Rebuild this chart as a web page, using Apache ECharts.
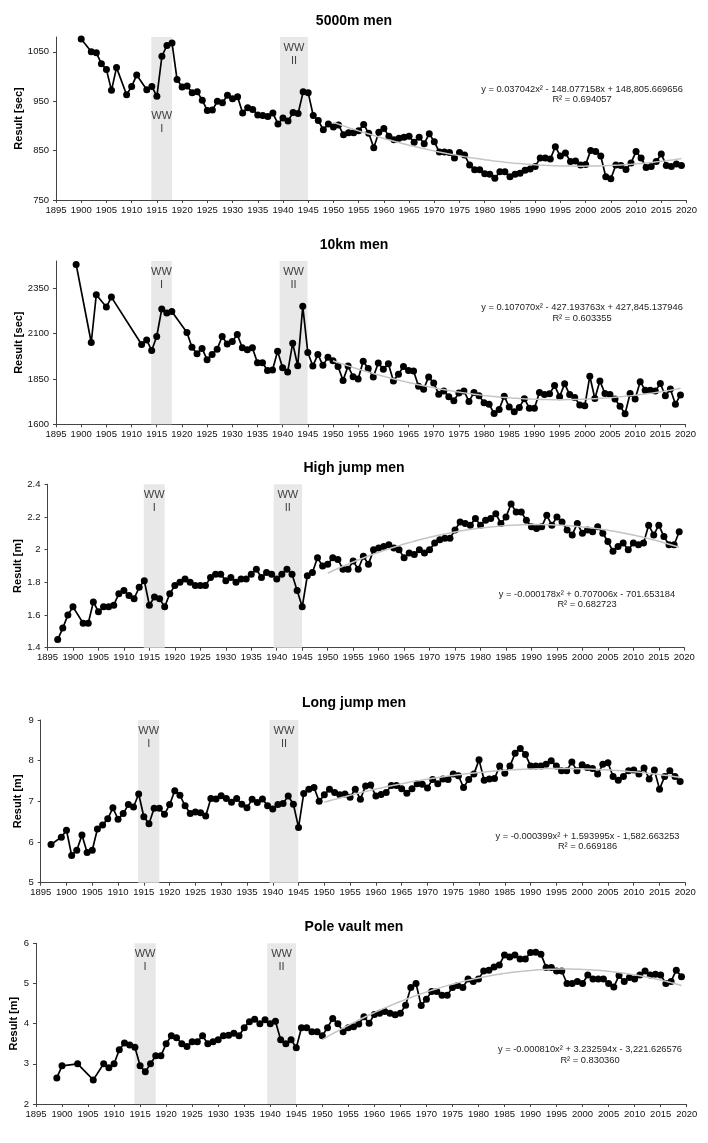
<!DOCTYPE html>
<html><head><meta charset="utf-8">
<script src="https://cdn.jsdelivr.net/npm/echarts@6.0.0/dist/echarts.min.js"></script>
<style>html,body{margin:0;padding:0;background:#fff}#c{width:708px;height:1143px}</style>
</head><body><div id="c"></div>
<script>
// ---- 5000m men [sec]
const years5000 = [1900,1902,1903,1904,1905,1906,1907,1909,1910,1911,1913,1914,1915,1916,1917,1918,1919,1920,1921,1922,1923,1924,1925,1926,1927,1928,1929,1930,1931,1932,1933,1934,1935,1936,1937,1938,1939,1940,1941,1942,1943,1944,1945,1946,1947,1948,1949,1950,1951,1952,1953,1954,1955,1956,1957,1958,1959,1960,1961,1962,1963,1964,1965,1966,1967,1968,1969,1970,1971,1972,1973,1974,1975,1976,1977,1978,1979,1980,1981,1982,1983,1984,1985,1986,1987,1988,1989,1990,1991,1992,1993,1994,1995,1996,1997,1998,1999,2000,2001,2002,2003,2004,2005,2006,2007,2008,2009,2010,2011,2012,2013,2014,2015,2016,2017,2018,2019];
const vals5000 = [1076,1050,1048,1026,1014,972,1018,963,980,1003,973,980,960,1041,1063,1068,994,979,981,967,969,952,931,932,950,947,962,955,959,926,937,933,922,921,919,926,904,916,910,927,925,969,967,921,911,892,904,898,902,882,886,886,890,903,885,856,887,895,879,872,875,877,879,867,877,864,884,868,847,847,846,835,846,841,821,811,811,803,802,794,807,807,797,802,804,810,813,818,835,835,833,858,839,845,828,829,821,822,850,848,839,797,793,821,820,812,825,848,835,816,818,828,843,820,818,823,820];

// ---- 10km men [sec]
const years10k = [1899,1902,1903,1905,1906,1912,1913,1914,1915,1916,1917,1918,1921,1922,1923,1924,1925,1926,1927,1928,1929,1930,1931,1932,1933,1934,1935,1936,1937,1938,1939,1940,1941,1942,1943,1944,1945,1946,1947,1948,1949,1950,1951,1952,1953,1954,1955,1956,1957,1958,1959,1960,1961,1962,1963,1964,1965,1966,1967,1968,1969,1970,1971,1972,1973,1974,1975,1976,1977,1978,1979,1980,1981,1982,1983,1984,1985,1986,1987,1988,1989,1990,1991,1992,1993,1994,1995,1996,1997,1998,1999,2000,2001,2002,2003,2004,2005,2006,2007,2008,2009,2010,2011,2012,2013,2014,2015,2016,2017,2018,2019];
const vals10k = [2481,2051,2314,2246,2301,2040,2065,2007,2084,2235,2213,2222,2106,2025,1989,2018,1956,1985,2014,2084,2042,2056,2095,2022,2011,2022,1939,1939,1897,1899,2003,1912,1888,2047,1923,2250,1996,1921,1985,1925,1969,1950,1919,1842,1921,1862,1850,1948,1907,1861,1938,1903,1934,1839,1876,1919,1896,1894,1810,1793,1861,1828,1766,1784,1752,1730,1773,1784,1726,1775,1757,1719,1710,1660,1682,1755,1695,1669,1693,1741,1689,1688,1775,1764,1768,1814,1752,1823,1764,1748,1706,1702,1865,1742,1839,1770,1764,1739,1700,1658,1770,1739,1835,1788,1788,1783,1825,1757,1795,1711,1762];

// ---- High jump men [m]
const yearsHJ = [1897,1898,1899,1900,1902,1903,1904,1905,1906,1907,1908,1909,1910,1911,1912,1913,1914,1915,1916,1917,1918,1919,1920,1921,1922,1923,1924,1925,1926,1927,1928,1929,1930,1931,1932,1933,1934,1935,1936,1937,1938,1939,1940,1941,1942,1943,1944,1945,1946,1947,1948,1949,1950,1951,1952,1953,1954,1955,1956,1957,1958,1959,1960,1961,1962,1963,1964,1965,1966,1967,1968,1969,1970,1971,1972,1973,1974,1975,1976,1977,1978,1979,1980,1981,1982,1983,1984,1985,1986,1987,1988,1989,1990,1991,1992,1993,1994,1995,1996,1997,1998,1999,2000,2001,2002,2003,2004,2005,2006,2007,2008,2009,2010,2011,2012,2013,2014,2015,2016,2017,2018,2019];
const valsHJ = [1.45,1.52,1.60,1.65,1.55,1.55,1.68,1.62,1.65,1.65,1.66,1.73,1.75,1.72,1.70,1.77,1.81,1.66,1.71,1.70,1.65,1.73,1.78,1.80,1.82,1.80,1.78,1.78,1.78,1.83,1.85,1.85,1.81,1.83,1.80,1.82,1.82,1.85,1.88,1.83,1.86,1.85,1.82,1.85,1.88,1.85,1.75,1.65,1.84,1.86,1.95,1.90,1.91,1.95,1.94,1.88,1.88,1.93,1.88,1.96,1.91,2.00,2.01,2.02,2.03,2.01,2.00,1.95,1.98,1.97,2.00,1.98,2.00,2.04,2.06,2.07,2.07,2.12,2.17,2.16,2.15,2.19,2.15,2.18,2.19,2.22,2.16,2.20,2.28,2.23,2.23,2.18,2.14,2.13,2.14,2.21,2.15,2.20,2.17,2.12,2.09,2.16,2.10,2.12,2.11,2.14,2.10,2.05,1.99,2.02,2.04,2.00,2.04,2.03,2.04,2.15,2.09,2.15,2.08,2.03,2.03,2.11];

// ---- Long jump men [m]
const yearsLJ = [1897,1899,1900,1901,1902,1903,1904,1905,1906,1907,1908,1909,1910,1911,1912,1913,1914,1915,1916,1917,1918,1919,1920,1921,1922,1923,1924,1925,1926,1927,1928,1929,1930,1931,1932,1933,1934,1935,1936,1937,1938,1939,1940,1941,1942,1943,1944,1945,1946,1947,1948,1949,1950,1951,1952,1953,1954,1955,1956,1957,1958,1959,1960,1961,1962,1963,1964,1965,1966,1967,1968,1969,1970,1971,1972,1973,1974,1975,1976,1977,1978,1979,1980,1981,1982,1983,1984,1985,1986,1987,1988,1989,1990,1991,1992,1993,1994,1995,1996,1997,1998,1999,2000,2001,2002,2003,2004,2005,2006,2007,2008,2009,2010,2011,2012,2013,2014,2015,2016,2017,2018,2019];
const valsLJ = [5.94,6.12,6.29,5.67,5.80,6.17,5.74,5.80,6.32,6.42,6.57,6.84,6.56,6.70,6.92,6.86,7.18,6.62,6.45,6.83,6.83,6.68,6.92,7.26,7.15,6.89,6.70,6.74,6.72,6.64,7.07,7.06,7.14,7.07,6.98,7.07,6.93,6.84,7.05,6.97,7.06,6.89,6.81,6.92,6.95,7.13,6.93,6.36,7.19,7.30,7.34,7.00,7.16,7.30,7.22,7.16,7.18,7.10,7.30,7.05,7.38,7.40,7.13,7.17,7.22,7.39,7.39,7.31,7.20,7.31,7.43,7.42,7.33,7.54,7.43,7.55,7.54,7.67,7.63,7.34,7.54,7.67,8.02,7.52,7.55,7.56,7.87,7.69,7.87,8.18,8.30,8.15,7.87,7.87,7.87,7.91,8.00,7.87,7.75,7.75,7.97,7.75,7.90,7.83,7.81,7.67,7.91,7.95,7.61,7.52,7.61,7.75,7.77,7.67,7.82,7.55,7.77,7.30,7.61,7.75,7.61,7.49];

// ---- Pole vault men [m]
const yearsPV = [1899,1900,1903,1906,1908,1909,1910,1911,1912,1913,1914,1915,1916,1917,1918,1919,1920,1921,1922,1923,1924,1925,1926,1927,1928,1929,1930,1931,1932,1933,1934,1935,1936,1937,1938,1939,1940,1941,1942,1943,1944,1945,1946,1947,1948,1949,1950,1951,1952,1953,1954,1955,1956,1957,1958,1959,1960,1961,1962,1963,1964,1965,1966,1967,1968,1969,1970,1971,1972,1973,1974,1975,1976,1977,1978,1979,1980,1981,1982,1983,1984,1985,1986,1987,1988,1989,1990,1991,1992,1993,1994,1995,1996,1997,1998,1999,2000,2001,2002,2003,2004,2005,2006,2007,2008,2009,2010,2011,2012,2013,2014,2015,2016,2017,2018,2019];
const valsPV = [2.65,2.95,3.00,2.60,3.00,2.90,3.00,3.35,3.52,3.47,3.41,2.95,2.80,3.00,3.20,3.20,3.50,3.70,3.65,3.50,3.43,3.55,3.55,3.70,3.50,3.55,3.60,3.70,3.71,3.76,3.70,3.90,4.05,4.11,4.00,4.10,4.00,4.06,3.60,3.50,3.60,3.40,3.90,3.90,3.80,3.80,3.70,3.90,4.13,4.00,3.80,3.90,3.92,3.99,4.17,4.01,4.23,4.26,4.30,4.26,4.22,4.26,4.46,4.90,5.00,4.45,4.61,4.80,4.80,4.71,4.71,4.90,4.95,4.90,5.11,5.05,5.11,5.31,5.33,5.41,5.46,5.71,5.66,5.71,5.61,5.61,5.77,5.78,5.73,5.40,5.40,5.31,5.31,5.00,5.00,5.05,5.00,5.21,5.11,5.11,5.11,5.00,4.91,5.20,5.05,5.15,5.11,5.21,5.31,5.21,5.23,5.21,5.00,5.05,5.33,5.17];

// ---- shared
const titles = ['5000m men','10km men','High jump men','Long jump men','Pole vault men'];
const yNames = ['Result [sec]','Result [sec]','Result [m]','Result [m]','Result [m]'];
const equations = [
  'y = 0.037042x\u00b2 - 148.077158x + 148,805.669656\nR\u00b2 = 0.694057',
  'y = 0.107070x\u00b2 - 427.193763x + 427,845.137946\nR\u00b2 = 0.603355',
  'y = -0.000178x\u00b2 + 0.707006x - 701.653184\nR\u00b2 = 0.682723',
  'y = -0.000399x\u00b2 + 1.593995x - 1,582.663253\nR\u00b2 = 0.669186',
  'y = -0.000810x\u00b2 + 3.232594x - 3,221.626576\nR\u00b2 = 0.830360'
];
const xTickRange = [1895, 2020, 5];
const yRanges = [[750,1080],[1600,2500],[1.4,2.4],[5,9],[2,6]];
const yTickLabels = [[750,850,950,1050],[1600,1850,2100,2350],[1.4,1.6,1.8,2,2.2,2.4],[5,6,7,8,9],[2,3,4,5,6]];
const wwI = [1913.9, 1918];
const wwII = [1939.4, 1944.95];
const trendStart = 1950;

const yearsAll = [years5000, years10k, yearsHJ, yearsLJ, yearsPV];
const valsAll = [vals5000, vals10k, valsHJ, valsLJ, valsPV];

// layout (px)
const grids = [
  {left:56, top:37, width:630.5, height:163},
  {left:56, top:261, width:629.5, height:163.3},
  {left:47.5, top:484.3, width:636.8, height:163.4},
  {left:40.7, top:720, width:644.6, height:162.7},
  {left:36, top:943.3, width:650.7, height:160.7}
];
const titleTops = [9, 233, 456, 691, 915];
const nameGaps = [32, 32, 23.7, 17, 16.5];
const eqPos = [[582,94.3],[582,313],[587,599.5],[587.5,841.3],[590,1055]];
const FONT = '"Liberation Sans", Arial, Helvetica, sans-serif';

function quadFit(xs, ys, from) {
  const X = [], Y = [];
  xs.forEach((x, i) => { if (x >= from) { X.push(x - 1985); Y.push(ys[i]); } });
  let s0=0,s1=0,s2=0,s3=0,s4=0,t0=0,t1=0,t2=0;
  for (let i = 0; i < X.length; i++) {
    const x = X[i], y = Y[i];
    s0 += 1; s1 += x; s2 += x*x; s3 += x*x*x; s4 += x*x*x*x;
    t0 += y; t1 += x*y; t2 += x*x*y;
  }
  const M = [[s4,s3,s2,t2],[s3,s2,s1,t1],[s2,s1,s0,t0]];
  for (let c = 0; c < 3; c++) {
    for (let r = c+1; r < 3; r++) {
      const f = M[r][c] / M[c][c];
      for (let k = c; k < 4; k++) M[r][k] -= f * M[c][k];
    }
  }
  const sol = [0,0,0];
  for (let r = 2; r >= 0; r--) {
    let s = M[r][3];
    for (let k = r+1; k < 3; k++) s -= M[r][k] * sol[k];
    sol[r] = s / M[r][r];
  }
  const last = xs[xs.length-1];
  const pts = [];
  for (let yr = from; yr <= last; yr += 0.5) {
    const t = yr - 1985;
    pts.push([yr, sol[0]*t*t + sol[1]*t + sol[2]]);
  }
  return pts;
}

const option = {
  animation: false,
  backgroundColor: '#fff',
  textStyle: { fontFamily: FONT },
  title: titles.map((t, i) => ({
    text: t, left: 'center', top: titleTops[i],
    textStyle: { fontSize: 14, fontWeight: 'bold', color: '#000', fontFamily: FONT }
  })),
  grid: grids.map(g => Object.assign({ outerBoundsMode: 'none', containLabel: false }, g)),
  xAxis: grids.map((g, i) => ({
    type: 'value', gridIndex: i, min: xTickRange[0], max: xTickRange[1], interval: xTickRange[2],
    axisLine: { show: true, lineStyle: { color: '#444', width: 1 } },
    axisTick: { show: true, length: 3, lineStyle: { color: '#444' } },
    splitLine: { show: false },
    axisLabel: { margin: 5, fontSize: 9.5, color: '#111', fontFamily: FONT, formatter: v => String(v) }
  })),
  yAxis: grids.map((g, i) => ({
    type: 'value', gridIndex: i, min: yRanges[i][0], max: yRanges[i][1],
    name: yNames[i], nameLocation: 'middle', nameGap: nameGaps[i], nameMoveOverlap: false,
    nameTextStyle: { fontSize: 11, fontWeight: 'bold', color: '#000', fontFamily: FONT },
    axisLine: { show: true, lineStyle: { color: '#444', width: 1 } },
    axisTick: { show: true, length: 3, lineStyle: { color: '#444' }, customValues: yTickLabels[i] },
    splitLine: { show: false },
    axisLabel: { margin: 7, fontSize: 9.5, color: '#111', fontFamily: FONT, customValues: yTickLabels[i],
      formatter: v => String(Math.round(v * 100) / 100) }
  })),
  series: [],
  graphic: equations.map((e, i) => ({
    type: 'text', x: eqPos[i][0], y: eqPos[i][1], z: 100,
    style: { text: e, align: 'center', verticalAlign: 'middle', fontSize: 9.3, lineHeight: 10.5,
      fill: '#222', fontFamily: FONT }
  }))
};

const wwLabel = { show: true, position: 'insideTop', distance: 4, formatter: '{b}',
  fontSize: 11, lineHeight: 13, color: '#404040', fontFamily: FONT };

for (let i = 0; i < 5; i++) {
  const data = yearsAll[i].map((y, k) => [y, valsAll[i][k]]);
  const labI = (i === 0) ? Object.assign({}, wwLabel, { position: 'inside', offset: [0, 4] }) : wwLabel;
  option.series.push({
    type: 'line', xAxisIndex: i, yAxisIndex: i, data: data, z: 3,
    symbol: 'circle', symbolSize: 7, showSymbol: true,
    itemStyle: { color: '#000' }, lineStyle: { color: '#000', width: 1.7 },
    emphasis: { disabled: true },
    markArea: {
      silent: true, itemStyle: { color: '#e8e8e8' }, label: wwLabel,
      data: [
        [{ name: 'WW\nI', xAxis: wwI[0], label: labI }, { xAxis: wwI[1] }],
        [{ name: 'WW\nII', xAxis: wwII[0] }, { xAxis: wwII[1] }]
      ]
    }
  });
  option.series.push({
    type: 'line', xAxisIndex: i, yAxisIndex: i, z: 4,
    data: quadFit(yearsAll[i], valsAll[i], trendStart),
    showSymbol: false, symbol: 'none', smooth: false,
    lineStyle: { color: '#c4c4c4', width: 1.5 }, emphasis: { disabled: true }
  });
}

const chart = echarts.init(document.getElementById('c'), null, { renderer: 'canvas' });
chart.setOption(option);
</script>
</body></html>
